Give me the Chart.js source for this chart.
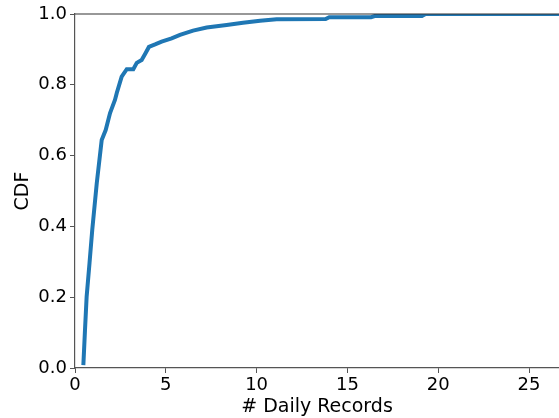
<!DOCTYPE html>
<html>
<head>
<meta charset="utf-8">
<script src="https://cdn.jsdelivr.net/npm/chart.js@4"></script>
<style>
  html, body { margin: 0; padding: 0; background: #fff; overflow: hidden; }
  #wrap { width: 559px; height: 418px; }
</style>
</head>
<body>
<div id="wrap"><canvas id="cdf" width="559" height="418"></canvas></div>
<script>
const dailyRecords = [0.46, 0.55, 0.64, 0.80, 0.95, 1.20, 1.47, 1.69, 1.93, 2.20, 2.30, 2.57, 2.85, 3.21, 3.40, 3.67, 3.89, 4.07, 4.41, 4.77, 5.32, 5.78, 6.50, 7.25, 8.35, 9.25, 10.19, 11.10, 13.8, 14.0, 16.3, 16.5, 19.1, 19.3, 26.65];
const cdfValues = [0.008, 0.107, 0.201, 0.297, 0.390, 0.523, 0.644, 0.672, 0.720, 0.757, 0.777, 0.823, 0.844, 0.844, 0.862, 0.870, 0.890, 0.907, 0.914, 0.922, 0.931, 0.941, 0.953, 0.962, 0.969, 0.975, 0.981, 0.985, 0.986, 0.991, 0.991, 0.994, 0.994, 1.0, 1.0];
const xTicks = [0, 5, 10, 15, 20, 25];
const yTicks = [0, 0.2, 0.4, 0.6, 0.8, 1.0];

const spine = '#555';
const font = { family: 'DejaVu Sans', size: 18 };
const titleFont = { family: 'DejaVu Sans', size: 19 };

// matplotlib keeps the top spine, chart.js doesn't
const topSpine = {
  id: 'topSpine',
  afterDraw(chart) {
    const { ctx, chartArea } = chart;
    ctx.save();
    ctx.strokeStyle = '#333';
    ctx.lineWidth = 1.2;
    ctx.beginPath();
    ctx.moveTo(chartArea.left, chartArea.top);
    ctx.lineTo(chartArea.right, chartArea.top);
    ctx.stroke();
    ctx.restore();
  }
};

new Chart(document.getElementById('cdf'), {
  type: 'line',
  data: {
    datasets: [{
      data: dailyRecords.map((x, i) => ({ x: x, y: cdfValues[i] })),
      borderColor: '#1f77b4',
      borderWidth: 4,
      pointRadius: 0,
      tension: 0,
      fill: false,
      clip: 0,
    }],
  },
  options: {
    responsive: false,
    animation: false,
    layout: { padding: { top: 14, right: 0, left: 0, bottom: 0 } },
    plugins: { legend: { display: false }, tooltip: { enabled: false } },
    scales: {
      x: {
        type: 'linear',
        min: 0,
        max: 26.65,
        afterBuildTicks: (axis) => { axis.ticks = xTicks.map(v => ({ value: v })); },
        afterFit: (axis) => { axis.height = 50; },
        grid: { drawOnChartArea: false, drawTicks: true, tickLength: 5, color: spine },
        border: { display: true, color: spine, width: 1.2 },
        ticks: { font: font, color: '#000', padding: 2, maxRotation: 0 },
        title: { display: true, text: '# Daily Records', font: titleFont, color: '#000', padding: { top: 0, bottom: 0 } },
      },
      y: {
        min: 0,
        max: 1,
        afterBuildTicks: (axis) => { axis.ticks = yTicks.map(v => ({ value: v })); },
        afterFit: (axis) => { axis.width = 75; },
        grid: { drawOnChartArea: false, drawTicks: true, tickLength: 5, color: spine },
        border: { display: true, color: spine, width: 1.2 },
        ticks: { font: font, color: '#000', padding: 3, callback: (v) => v.toFixed(1) },
        title: { display: true, text: 'CDF', font: titleFont, color: '#000', padding: { top: 12, bottom: 0 } },
      },
    },
  },
  plugins: [topSpine],
});
</script>
</body>
</html>
